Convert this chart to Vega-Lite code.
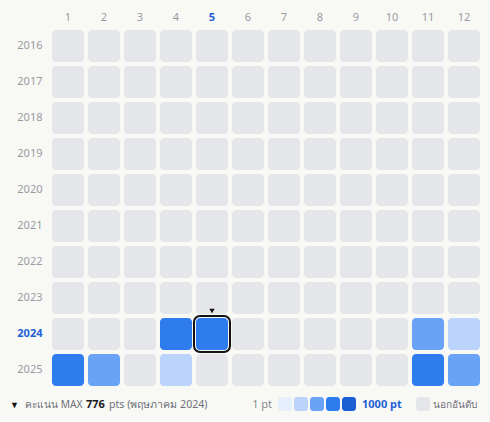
{
  "$schema": "https://vega.github.io/schema/vega-lite/v6.json",
  "background": "#f8f8f5",
  "padding": {"left": 10, "top": 0, "right": 8, "bottom": 11},
  "spacing": 9,
  "config": {"view": {"stroke": null}, "font": "Noto Sans"},
  "resolve": {"scale": {"x": "independent", "y": "independent"}},
  "datasets": {
    "cells": [
      {"year":2016,"month":1},{"year":2016,"month":2},{"year":2016,"month":3},{"year":2016,"month":4},{"year":2016,"month":5},{"year":2016,"month":6},{"year":2016,"month":7},{"year":2016,"month":8},{"year":2016,"month":9},{"year":2016,"month":10},{"year":2016,"month":11},{"year":2016,"month":12},
      {"year":2017,"month":1},{"year":2017,"month":2},{"year":2017,"month":3},{"year":2017,"month":4},{"year":2017,"month":5},{"year":2017,"month":6},{"year":2017,"month":7},{"year":2017,"month":8},{"year":2017,"month":9},{"year":2017,"month":10},{"year":2017,"month":11},{"year":2017,"month":12},
      {"year":2018,"month":1},{"year":2018,"month":2},{"year":2018,"month":3},{"year":2018,"month":4},{"year":2018,"month":5},{"year":2018,"month":6},{"year":2018,"month":7},{"year":2018,"month":8},{"year":2018,"month":9},{"year":2018,"month":10},{"year":2018,"month":11},{"year":2018,"month":12},
      {"year":2019,"month":1},{"year":2019,"month":2},{"year":2019,"month":3},{"year":2019,"month":4},{"year":2019,"month":5},{"year":2019,"month":6},{"year":2019,"month":7},{"year":2019,"month":8},{"year":2019,"month":9},{"year":2019,"month":10},{"year":2019,"month":11},{"year":2019,"month":12},
      {"year":2020,"month":1},{"year":2020,"month":2},{"year":2020,"month":3},{"year":2020,"month":4},{"year":2020,"month":5},{"year":2020,"month":6},{"year":2020,"month":7},{"year":2020,"month":8},{"year":2020,"month":9},{"year":2020,"month":10},{"year":2020,"month":11},{"year":2020,"month":12},
      {"year":2021,"month":1},{"year":2021,"month":2},{"year":2021,"month":3},{"year":2021,"month":4},{"year":2021,"month":5},{"year":2021,"month":6},{"year":2021,"month":7},{"year":2021,"month":8},{"year":2021,"month":9},{"year":2021,"month":10},{"year":2021,"month":11},{"year":2021,"month":12},
      {"year":2022,"month":1},{"year":2022,"month":2},{"year":2022,"month":3},{"year":2022,"month":4},{"year":2022,"month":5},{"year":2022,"month":6},{"year":2022,"month":7},{"year":2022,"month":8},{"year":2022,"month":9},{"year":2022,"month":10},{"year":2022,"month":11},{"year":2022,"month":12},
      {"year":2023,"month":1},{"year":2023,"month":2},{"year":2023,"month":3},{"year":2023,"month":4},{"year":2023,"month":5},{"year":2023,"month":6},{"year":2023,"month":7},{"year":2023,"month":8},{"year":2023,"month":9},{"year":2023,"month":10},{"year":2023,"month":11},{"year":2023,"month":12},
      {"year":2024,"month":1},{"year":2024,"month":2},{"year":2024,"month":3},{"year":2024,"month":4,"pts":652},{"year":2024,"month":5,"pts":776},{"year":2024,"month":6},{"year":2024,"month":7},{"year":2024,"month":8},{"year":2024,"month":9},{"year":2024,"month":10},{"year":2024,"month":11,"pts":489},{"year":2024,"month":12,"pts":283},
      {"year":2025,"month":1,"pts":701},{"year":2025,"month":2,"pts":455},{"year":2025,"month":3},{"year":2025,"month":4,"pts":262},{"year":2025,"month":5},{"year":2025,"month":6},{"year":2025,"month":7},{"year":2025,"month":8},{"year":2025,"month":9},{"year":2025,"month":10},{"year":2025,"month":11,"pts":734},{"year":2025,"month":12,"pts":512}
    ],
    "bins": [
      {"lo": 1, "hi": 200},
      {"lo": 200, "hi": 400},
      {"lo": 400, "hi": 600},
      {"lo": 600, "hi": 800},
      {"lo": 800, "hi": 1000}
    ]
  },
  "vconcat": [
    {
      "width": 432,
      "height": 360,
      "data": {"name": "cells"},
      "encoding": {
        "x": {
          "field": "month", "type": "ordinal",
          "scale": {"paddingInner": 0.1111, "paddingOuter": 0.0556},
          "axis": {
            "orient": "top", "title": null, "domain": false, "ticks": false,
            "labelAngle": 0, "labelPadding": 6, "labelFontSize": 11, "minExtent": 28,
            "labelColor": {"condition": {"test": "datum.value == 5", "value": "#1f5fd6"}, "value": "#999aa3"},
            "labelFontWeight": {"condition": {"test": "datum.value == 5", "value": "bold"}, "value": "normal"}
          }
        },
        "y": {
          "field": "year", "type": "ordinal",
          "scale": {"paddingInner": 0.1111, "paddingOuter": 0.0556},
          "axis": {
            "title": null, "domain": false, "ticks": false,
            "labelPadding": 8, "labelFontSize": 11, "minExtent": 40,
            "labelColor": {"condition": {"test": "datum.value == 2024", "value": "#1f5fd6"}, "value": "#999aa3"},
            "labelFontWeight": {"condition": {"test": "datum.value == 2024", "value": "bold"}, "value": "normal"}
          }
        }
      },
      "layer": [
        {"mark": {"type": "rect", "color": "#e5e6ea", "cornerRadius": 4}},
        {
          "transform": [{"filter": "isValid(datum.pts)"}],
          "mark": {"type": "rect", "cornerRadius": 4},
          "encoding": {
            "color": {
              "field": "pts", "type": "quantitative",
              "scale": {"type": "threshold", "domain": [200, 400, 600, 800], "range": ["#e6effe", "#bcd4fb", "#6aa3f5", "#2f7cef", "#1c5fd5"]},
              "legend": null
            }
          }
        },
        {
          "transform": [
            {"filter": "isValid(datum.pts)"},
            {"window": [{"op": "row_number", "as": "rank"}], "sort": [{"field": "pts", "order": "descending"}]},
            {"filter": "datum.rank == 1"}
          ],
          "mark": {"type": "rect", "filled": false, "stroke": "#111111", "strokeWidth": 2, "cornerRadius": 6, "width": {"band": 1.125}, "height": {"band": 1.125}}
        },
        {
          "transform": [
            {"filter": "isValid(datum.pts)"},
            {"window": [{"op": "row_number", "as": "rank"}], "sort": [{"field": "pts", "order": "descending"}]},
            {"filter": "datum.rank == 1"}
          ],
          "mark": {"type": "point", "shape": "triangle-down", "filled": true, "color": "#111111", "size": 28, "opacity": 1, "yOffset": -7},
          "encoding": {"y": {"field": "year", "type": "ordinal", "bandPosition": 0}}
        }
      ]
    },
    {
      "width": 432,
      "height": 14,
      "layer": [
        {
          "data": {"name": "bins"},
          "mark": {"type": "rect", "cornerRadius": 3, "xOffset": 1, "x2Offset": -1},
          "encoding": {
            "x": {"field": "lo", "type": "quantitative", "scale": {"domain": [0, 1000], "range": [227, 307]}, "axis": null},
            "x2": {"field": "hi"},
            "color": {
              "field": "lo", "type": "quantitative",
              "scale": {"type": "threshold", "domain": [200, 400, 600, 800], "range": ["#e6effe", "#bcd4fb", "#6aa3f5", "#2f7cef", "#1c5fd5"]},
              "legend": null
            }
          }
        },
        {
          "data": {"values": [{"label": "1 pt", "at": 1}]},
          "mark": {"type": "text", "align": "right", "dx": -5, "dy": 1, "fontSize": 11, "color": "#8b8b94"},
          "encoding": {"x": {"field": "at", "type": "quantitative"}, "text": {"field": "label"}}
        },
        {
          "data": {"values": [{"label": "1000 pt", "at": 1000}]},
          "mark": {"type": "text", "align": "left", "dx": 5, "dy": 1, "fontSize": 11, "fontWeight": "bold", "color": "#1f5fd6"},
          "encoding": {"x": {"field": "at", "type": "quantitative"}, "text": {"field": "label"}}
        },
        {
          "data": {"values": [{"at": 1000}]},
          "mark": {"type": "rect", "color": "#e5e6ea", "cornerRadius": 3, "xOffset": 59, "x2Offset": 73},
          "encoding": {"x": {"field": "at", "type": "quantitative"}, "x2": {"field": "at"}}
        },
        {
          "data": {"values": [{"label": "นอกอันดับ", "at": 1000}]},
          "mark": {"type": "text", "align": "left", "dx": 76, "dy": 1, "fontSize": 10, "color": "#6f7079"},
          "encoding": {"x": {"field": "at", "type": "quantitative"}, "text": {"field": "label"}}
        },
        {
          "data": {"values": [{"label": "▼", "at": 0}]},
          "mark": {"type": "text", "align": "left", "dx": -267, "dy": 1, "fontSize": 9, "color": "#111111"},
          "encoding": {"x": {"field": "at", "type": "quantitative"}, "text": {"field": "label"}}
        },
        {
          "data": {"values": [{"label": "คะแนน MAX", "at": 0}]},
          "mark": {"type": "text", "align": "left", "dx": -252, "dy": 1, "fontSize": 10.2, "color": "#6f7079"},
          "encoding": {"x": {"field": "at", "type": "quantitative"}, "text": {"field": "label"}}
        },
        {
          "data": {"name": "cells"},
          "transform": [
            {"filter": "isValid(datum.pts)"},
            {"window": [{"op": "row_number", "as": "rank"}], "sort": [{"field": "pts", "order": "descending"}]},
            {"filter": "datum.rank == 1"},
            {"calculate": "0", "as": "at"}
          ],
          "mark": {"type": "text", "align": "left", "dx": -191, "dy": 1, "fontSize": 11, "fontWeight": "bold", "color": "#1a1a1a"},
          "encoding": {"x": {"field": "at", "type": "quantitative"}, "text": {"field": "pts"}}
        },
        {
          "data": {"values": [{"label": "pts (พฤษภาคม 2024)", "at": 0}]},
          "mark": {"type": "text", "align": "left", "dx": -168, "dy": 1, "fontSize": 10.6, "color": "#6f7079"},
          "encoding": {"x": {"field": "at", "type": "quantitative"}, "text": {"field": "label"}}
        }
      ]
    }
  ]
}
